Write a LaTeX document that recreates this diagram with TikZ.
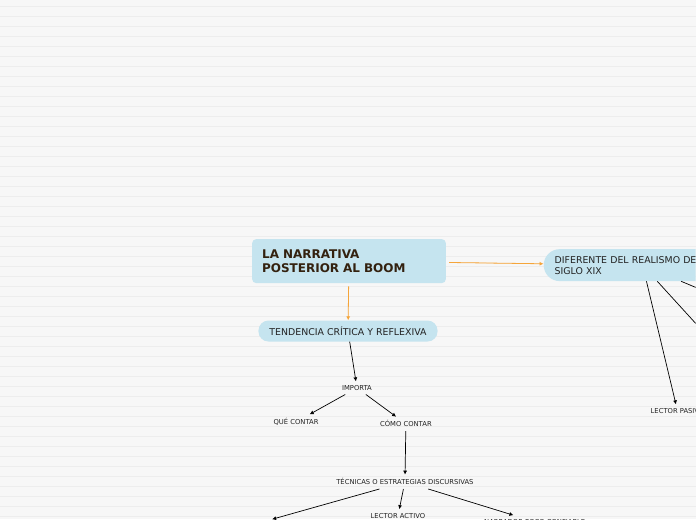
\documentclass[tikz,border=0pt]{standalone}
\usepackage{fontspec}
\setmainfont{DejaVu Sans}
\usetikzlibrary{arrows.meta, positioning}

\definecolor{bgpaper}{HTML}{F7F7F7}
\definecolor{bgrule}{HTML}{EDEDED}
\definecolor{topicblue}{HTML}{C5E4EF}
\definecolor{linkorange}{HTML}{F5A53A}
\definecolor{titlebrown}{HTML}{33210F}
\definecolor{inkdark}{HTML}{222222}

\begin{document}
\begin{tikzpicture}[
  x=1pt, y=-1pt,
  mainbox/.style={fill=topicblue, rounded corners=4pt, align=left,
                  text width=174pt, inner xsep=10pt, minimum height=44pt,
                  text=titlebrown, font=\fontsize{12}{13.5}\selectfont\bfseries},
  topic/.style={fill=topicblue, rounded corners=10pt, minimum height=21pt,
                inner xsep=11pt, text=inkdark, font=\fontsize{9.4}{11}\selectfont},
  label/.style={inner sep=3pt, outer sep=1pt, text=inkdark,
                font=\fontsize{6.8}{7.5}\selectfont},
  orarr/.style={-{Latex[length=4pt,width=4pt]}, draw=linkorange, fill=linkorange,
                line width=0.8pt},
  arr/.style={-{Latex[length=4pt,width=4pt]}, line width=0.7pt}
]
  % paper
  \fill[bgpaper] (0,0) rectangle (696,520);
  \foreach \y in {7,17,...,517}
    \draw[bgrule, line width=1pt] (0,\y) -- (696,\y);
  \useasboundingbox (0,0) rectangle (696,520);
  \clip (0,0) rectangle (696,520);

  % central topic
  \node[mainbox] (boom) at (349,261.5) {LA NARRATIVA\\POSTERIOR AL BOOM};

  % main branches
  \node[topic] (tend) at (348,331.5) {TENDENCIA CRÍTICA Y REFLEXIVA};
  \node[topic, rounded corners=16pt, minimum height=32pt, text width=176pt,
        align=left] (dif) at (643,265.5) {DIFERENTE DEL REALISMO DEL\\SIGLO XIX};

  % sub topics
  \node[label] (imp)  at (357,388.5) {IMPORTA};
  \node[label] (que)  at (296,422.5) {QUÉ CONTAR};
  \node[label] (como) at (406,424.5) {CÓMO CONTAR};
  \node[label] (tec)  at (405,482.5) {TÉCNICAS O ESTRATEGIAS DISCURSIVAS};
  \node[label] (lact) at (398,516.5) {LECTOR ACTIVO};
  \node[label] (narr) at (535,522.5) {NARRADOR POCO CONFIABLE};
  \node[label] (lpas) at (678,411.5) {LECTOR PASIVO};

  % branches running off the sheet
  \coordinate (tecout) at (272,520);
  \coordinate (difoutA) at (720,350);
  \coordinate (difoutB) at (730,302);

  \draw[orarr, shorten <=3pt] (boom) -- (tend);
  \draw[orarr, shorten <=3pt] (boom) -- (dif);

  \draw[arr] (tend) -- (imp);
  \draw[arr] (imp)  -- (que);
  \draw[arr] (imp)  -- (como);
  \draw[arr] (como) -- (tec);
  \draw[arr] (tec)  -- (tecout);
  \draw[arr] (tec)  -- (lact);
  \draw[arr] (tec)  -- (narr);
  \draw[arr] (dif)  -- (lpas);
  \draw[arr] (dif)  -- (difoutA);
  \draw[arr] (dif)  -- (difoutB);
\end{tikzpicture}
\end{document}
